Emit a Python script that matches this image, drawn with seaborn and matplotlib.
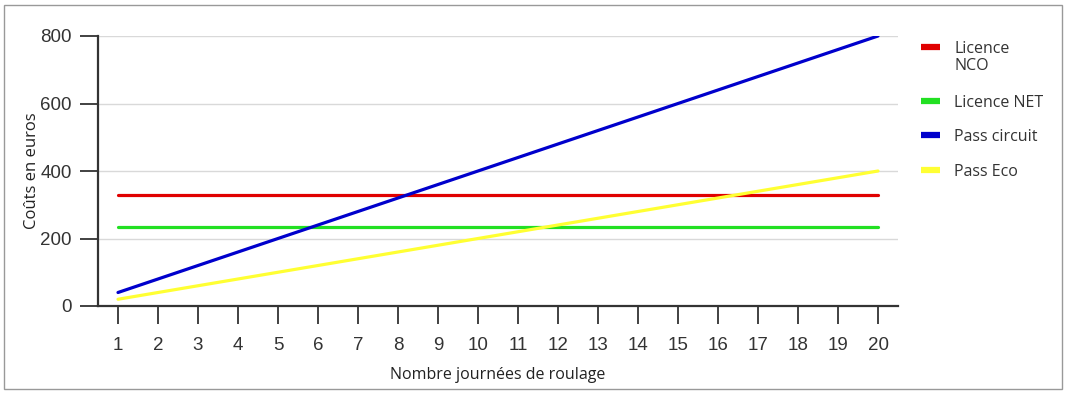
import pandas as pd
import matplotlib.pyplot as plt
import seaborn as sns
from matplotlib.patches import Rectangle
from matplotlib.lines import Line2D

# Number of track days
days = list(range(1, 21))

# Costs in euros
licence_nco = [330] * 20
licence_net = [235] * 20
pass_circuit = [40, 80, 120, 160, 200, 240, 280, 320, 360, 400,
                440, 480, 520, 560, 600, 640, 680, 720, 760, 800]
pass_eco = [20, 40, 60, 80, 100, 120, 140, 160, 180, 200,
            220, 240, 260, 280, 300, 320, 340, 360, 380, 400]

series_names = ["Licence\nNCO", "Licence NET", "Pass circuit", "Pass Eco"]
series_colors = ["#e00000", "#22e022", "#0000cc", "#ffff33"]
y_ticks = [0, 200, 400, 600, 800]

df = pd.DataFrame({
    "day": days * 4,
    "cost": licence_nco + licence_net + pass_circuit + pass_eco,
    "series": [n for n in series_names for _ in days],
})

sns.set_style("white")
plt.rcParams["font.family"] = ["Open Sans", "DejaVu Sans"]

W, H = 1068, 396
fig = plt.figure(figsize=(W / 100, H / 100), dpi=100)
ax = fig.add_axes([98 / W, 1 - 306 / H, 800 / W, 270 / H])

sns.lineplot(data=df, x="day", y="cost", hue="series", palette=series_colors,
             hue_order=series_names, linewidth=2.3, ax=ax, legend=False)

ax.set_xlim(0.5, 20.5)
ax.set_ylim(0, 800)
ax.set_xticks(days)
ax.set_yticks(y_ticks)
ax.grid(axis="y", color="#d9d9d9", linewidth=1)
ax.set_axisbelow(True)
for s in ["top", "right"]:
    ax.spines[s].set_visible(False)
for s in ["left", "bottom"]:
    ax.spines[s].set_color("#333333")
    ax.spines[s].set_linewidth(1.6)
ax.tick_params(axis="both", bottom=True, left=True, length=13, width=1.3,
               color="#333333", labelsize=13.5, labelcolor="#333333")
ax.tick_params(axis="x", pad=9)
ax.tick_params(axis="y", pad=6)
for lab in ax.get_xticklabels() + ax.get_yticklabels():
    lab.set_family("Liberation Sans")

ax.set_xlabel("Nombre journées de roulage", fontsize=11.5, color="#222222", labelpad=10)
ax.set_ylabel("Coûts en euros", fontsize=12, color="#222222", labelpad=0)

# legend drawn by hand so the swatch sits on the first text line
legend_y = [47, 101, 135, 170]
for name, color, y in zip(series_names, series_colors, legend_y):
    fig.add_artist(Line2D([921 / W, 940 / W], [1 - y / H, 1 - y / H], transform=fig.transFigure,
                          color=color, linewidth=4.5, solid_capstyle="butt"))
    fig.text(954 / W, 1 - (y - 6) / H, name, fontsize=11.5, color="#333333",
             va="top", ha="left", linespacing=1.05)

fig.add_artist(Rectangle((4 / W, 1 - 389 / H), 1058 / W, 384 / H,
                         transform=fig.transFigure, fill=False, edgecolor="#999999", linewidth=1))

fig.savefig("out.png", dpi=100)
